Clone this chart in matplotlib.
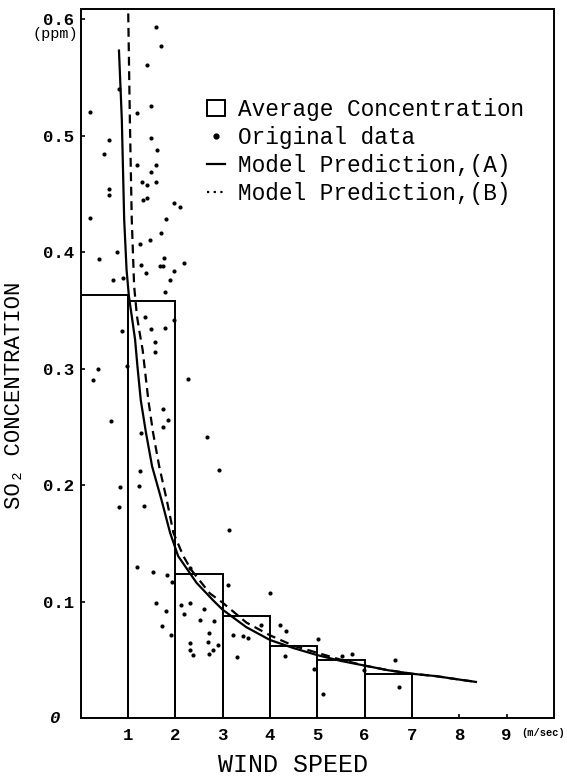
import matplotlib
matplotlib.use("Agg")
import matplotlib.pyplot as plt
from matplotlib.lines import Line2D
from matplotlib.patches import Patch

# ---------------- data ----------------
bin_left = [0, 1, 2, 3, 4, 5, 6]
avg_conc = [0.363, 0.358, 0.124, 0.088, 0.062, 0.050, 0.038]

obs_speed = [1.59, 1.70, 1.40, 0.82, 1.49, 1.19, 0.20, 0.59, 1.49, 1.61, 0.50, 1.19, 1.59, 1.49,
             1.30, 1.40, 1.60, 0.59, 0.59, 1.32, 1.40, 1.98, 2.09, 0.20, 1.80, 1.69, 1.26, 1.47,
             0.38, 0.77, 1.28, 1.39, 1.67, 1.75, 1.77, 2.18, 1.97, 1.88, 1.78, 0.68, 0.90, 0.87,
             0.97, 0.37, 0.26, 1.37, 1.49, 1.78, 1.97, 1.58, 1.58, 2.26,
             0.65, 0.83, 0.82, 1.25, 1.24, 1.33, 1.28, 1.75, 1.85, 1.75, 2.67, 2.93, 3.13,
             1.20, 1.53, 1.83, 1.92, 2.31, 3.12, 4.01,
             1.59, 1.81, 1.72, 1.91, 2.11, 2.30, 2.19, 2.60, 2.53, 2.81, 2.71, 2.30, 2.69, 2.91,
             2.30, 2.80, 2.71, 2.38,
             3.21, 3.42, 3.53, 3.31, 3.82, 4.22, 4.33, 4.32,
             5.02, 4.92, 5.12, 5.73, 5.52, 5.98, 6.64, 6.72]
obs_conc = [0.593, 0.577, 0.561, 0.540, 0.525, 0.519, 0.520, 0.496, 0.498, 0.488, 0.484, 0.475, 0.475, 0.469,
            0.460, 0.458, 0.460, 0.454, 0.449, 0.445, 0.446, 0.442, 0.439, 0.429, 0.428, 0.416, 0.407, 0.410,
            0.394, 0.400, 0.389, 0.382, 0.388, 0.388, 0.395, 0.391, 0.384, 0.376, 0.366, 0.376, 0.378, 0.332,
            0.302, 0.300, 0.290, 0.344, 0.334, 0.335, 0.342, 0.323, 0.314, 0.291,
            0.255, 0.198, 0.181, 0.212, 0.199, 0.182, 0.245, 0.265, 0.256, 0.250, 0.241, 0.213, 0.161,
            0.130, 0.125, 0.123, 0.117, 0.129, 0.114, 0.107,
            0.099, 0.092, 0.079, 0.071, 0.097, 0.099, 0.089, 0.094, 0.084, 0.083, 0.073, 0.064, 0.065, 0.063,
            0.058, 0.058, 0.055, 0.054,
            0.071, 0.070, 0.069, 0.052, 0.080, 0.080, 0.075, 0.053,
            0.068, 0.042, 0.021, 0.055, 0.053, 0.041, 0.050, 0.027]

model_a_speed = [0.81, 0.87, 0.92, 0.97, 1.02, 1.08, 1.15, 1.20, 1.27, 1.38, 1.51, 1.71, 1.89, 2.06,
                 2.45, 2.80, 3.0, 3.5, 4.0, 4.5, 5.0, 5.5, 6.0, 6.5, 7.0, 7.5, 8.0, 8.35]
model_a_conc = [0.573, 0.514, 0.428, 0.385, 0.362, 0.345, 0.325, 0.302, 0.273, 0.245, 0.216, 0.187, 0.159, 0.139,
                0.116, 0.101, 0.093, 0.078, 0.067, 0.060, 0.054, 0.049, 0.045, 0.041, 0.038, 0.036, 0.033, 0.031]

model_b_speed = [1.00, 1.04, 1.08, 1.13, 1.19, 1.25, 1.31, 1.43, 1.53, 1.66, 1.82, 1.96, 2.17, 2.34,
                 2.73, 3.0, 3.5, 4.0, 4.5, 5.0, 5.5, 6.0, 6.5, 7.0, 7.5, 8.0, 8.35]
model_b_conc = [0.620, 0.514, 0.428, 0.371, 0.345, 0.330, 0.316, 0.273, 0.245, 0.216, 0.187, 0.159, 0.139, 0.127,
                0.107, 0.099, 0.082, 0.071, 0.062, 0.056, 0.050, 0.045, 0.041, 0.038, 0.036, 0.033, 0.031]

x_ticks = [1, 2, 3, 4, 5, 6, 7, 8, 9]
x_tick_labels = ["1", "2", "3", "4", "5", "6", "7", "8", "9"]
y_ticks = [0.1, 0.2, 0.3, 0.4, 0.5, 0.6]
y_tick_labels = ["0.1", "0.2", "0.3", "0.4", "0.5", "0.6"]

# ---------------- figure ----------------
MONO = ["Liberation Mono", "DejaVu Sans Mono"]
plt.rcParams["font.family"] = MONO

fig = plt.figure(figsize=(5.67, 7.77), dpi=100)
ax = fig.add_axes([0.1422, 0.0759, 0.8349, 0.9130])

ax.bar(bin_left, avg_conc, width=1.0, align="edge", fill=False,
       edgecolor="black", linewidth=1.4, zorder=2)
ax.scatter(obs_speed, obs_conc, s=9, color="black", linewidths=0, zorder=3)
ax.plot(model_a_speed, model_a_conc, color="black", lw=1.6, zorder=4)
ax.plot(model_b_speed, model_b_conc, color="black", lw=1.6, dashes=(4, 2.5), zorder=4)

ax.set_xlim(0, 10)
ax.set_ylim(0, 0.609)

for sp in ax.spines.values():
    sp.set_linewidth(1.4)
    sp.set_color("black")

ax.set_xticks(x_ticks)
ax.set_xticklabels(x_tick_labels)
ax.set_yticks(y_ticks)
ax.set_yticklabels(y_tick_labels)
ax.tick_params(axis="both", direction="in", length=3, width=1.2,
               labelsize=12.5)
ax.tick_params(axis="x", pad=7)
ax.tick_params(axis="y", pad=5)
for lab in ax.get_xticklabels() + ax.get_yticklabels():
    lab.set_fontweight("bold")

# zero label and unit annotations
ax.annotate("0", xy=(0, 0), xycoords=("axes fraction", "data"),
            xytext=(-15, 0), textcoords="offset points",
            ha="right", va="center", fontsize=12.5, fontweight="bold", style="italic")
ax.annotate("(ppm)", xy=(0, 0.6), xycoords=("axes fraction", "data"),
            xytext=(-2, -11), textcoords="offset points",
            ha="right", va="center", fontsize=11)
ax.annotate("(m/sec)", xy=(9.3, 0), xycoords="data",
            xytext=(0, -10.5), textcoords="offset points",
            ha="left", va="center", fontsize=7.5, fontweight="bold")

ax.set_xlabel("WIND SPEED", fontsize=18, va="center")
ax.xaxis.set_label_coords(0.449, -0.066)
ax.set_ylabel("SO\u2082 CONCENTRATION", fontsize=16, va="center")
ax.yaxis.set_label_coords(-0.139, 0.455)

handles = [
    Patch(facecolor="none", edgecolor="black", linewidth=1.4),
    Line2D([], [], linestyle="none", marker="o", markersize=3.5, color="black"),
    Line2D([], [], color="black", lw=1.6),
    Line2D([], [], color="black", lw=1.6, dashes=(1, 2)),
]
labels = ["Average Concentration", "Original data",
          "Model Prediction,(A)", "Model Prediction,(B)"]
ax.legend(handles, labels, loc="upper left", bbox_to_anchor=(0.266, 0.874),
          frameon=False, prop={"family": MONO, "size": 16.4},
          handlelength=0.8, handletextpad=0.6, labelspacing=0.22, borderpad=0,
          borderaxespad=0)

fig.savefig("out.png", dpi=100)
